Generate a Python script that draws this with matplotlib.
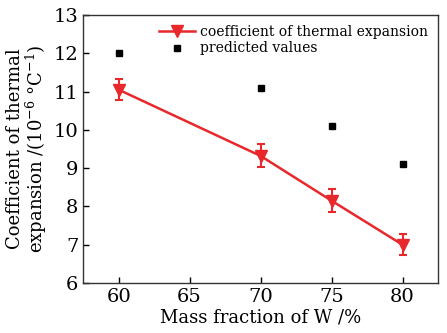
import numpy as np
import matplotlib
matplotlib.use("Agg")
import matplotlib.pyplot as plt
from matplotlib.lines import Line2D

plt.rcParams['font.family'] = ['DejaVu Serif']
plt.rcParams['mathtext.fontset'] = 'dejavuserif'

# Data
mass_fraction = [60, 70, 75, 80]
cte = [11.05, 9.32, 8.15, 7.0]
cte_err = [0.28, 0.3, 0.3, 0.27]
predicted = [12.0, 11.1, 10.1, 9.1]

red = '#e8282b'

fig, ax = plt.subplots(figsize=(4.47, 3.33), dpi=100)
fig.subplots_adjust(left=0.186, right=0.98, top=0.955, bottom=0.15)

ax.errorbar(mass_fraction, cte, yerr=cte_err, color=red, marker='v',
            markersize=9, lw=1.8, capsize=3, elinewidth=1.5, capthick=1.5)
ax.plot(mass_fraction, predicted, 's', color='black', markersize=5,
        linestyle='none')

ax.set_xlim(57.5, 82.5)
ax.set_ylim(6, 13)
ax.set_xticks([60, 65, 70, 75, 80])
ax.set_yticks(range(6, 14))
ax.tick_params(direction='in', labelsize=14, length=4, width=1)
for s in ax.spines.values():
    s.set_linewidth(1.0)
    s.set_color('#333333')

ax.set_xlabel('Mass fraction of W /%', fontsize=13, labelpad=2)
ax.set_ylabel('Coefficient of thermal\nexpansion /(10$^{-6}$ \u00b0C$^{-1}$)',
              fontsize=13, linespacing=1.0, labelpad=3)

handles = [
    Line2D([], [], color=red, marker='v', markersize=9, lw=1.8),
    Line2D([], [], color='black', marker='s', markersize=5, linestyle='none'),
]
ax.legend(handles, ['coefficient of thermal expansion', 'predicted values'],
          loc='upper right', frameon=False, fontsize=10, handlelength=2.6,
          handletextpad=0.4, borderaxespad=0.3, labelspacing=0.2)

plt.savefig('out.png', dpi=100)
